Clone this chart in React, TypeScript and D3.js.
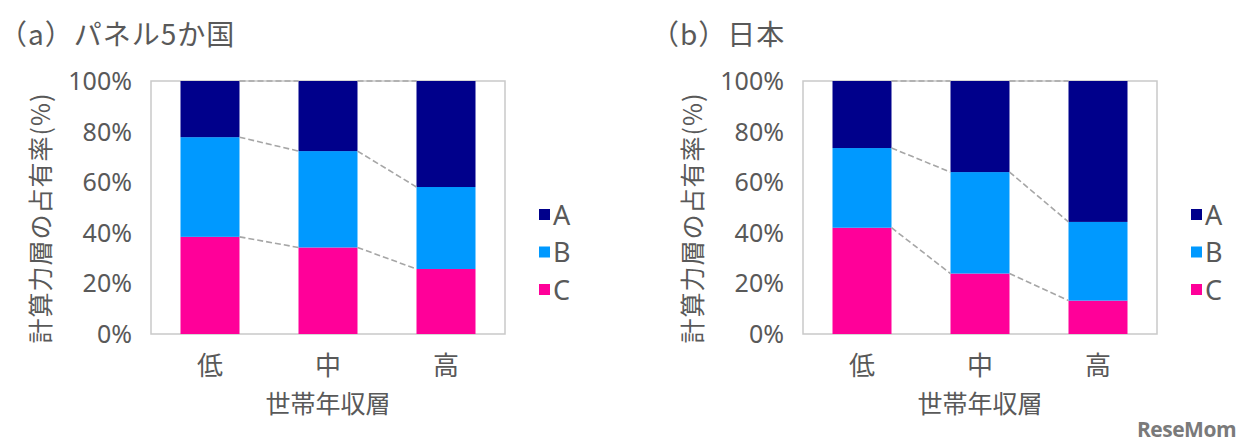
import React from "react";
import * as d3 from "d3";

const categories = ["低", "中", "高"];
const seriesKeys = ["C", "B", "A"];
const legendKeys = ["A", "B", "C"];
const panelA_C = [38.4, 34.2, 25.7];
const panelA_B = [39.4, 38.1, 32.4];
const panelA_A = [22.2, 27.7, 41.9];
const panelB_C = [42.0, 23.9, 13.2];
const panelB_B = [31.5, 40.1, 31.1];
const panelB_A = [26.5, 36.0, 55.7];
const yTicks = [0, 20, 40, 60, 80, 100];
const titles = ["（a）パネル5か国", "（b）日本"];
const yTitle = "計算力層の占有率(%)";
const xTitle = "世帯年収層";

const colors: Record<string, string> = { A: "#00008b", B: "#0099ff", C: "#ff0099" };
const FONT = "'Noto Sans CJK JP', 'Noto Sans', sans-serif";
const LATIN = "'Noto Sans', 'Noto Sans CJK JP', sans-serif";
const TXT = "#595959";

type PanelProps = { x0: number; title: string; C: number[]; B: number[]; A: number[] };

function Panel({ x0, title, C, B, A }: PanelProps) {
  const left = x0;
  const width = 354;
  const top = 81;
  const bottom = 334;
  const x = d3
    .scaleBand<string>()
    .domain(categories)
    .range([left, left + width])
    .paddingInner(0.5)
    .paddingOuter(0.25);
  const y = d3.scaleLinear().domain([0, 100]).range([bottom, top]);
  const rows = categories.map((c, i) => ({ cat: c, C: C[i], B: B[i], A: A[i] }));
  const stack = d3.stack<any>().keys(seriesKeys)(rows);
  const bw = x.bandwidth();

  const connectors: { x1: number; y1: number; x2: number; y2: number }[] = [];
  stack.forEach((layer) => {
    for (let i = 0; i < categories.length - 1; i++) {
      connectors.push({
        x1: (x(categories[i]) as number) + bw,
        y1: y(layer[i][1]),
        x2: x(categories[i + 1]) as number,
        y2: y(layer[i + 1][1]),
      });
    }
  });

  const legendX = left + width + 34;
  const legendY0 = 215;
  return (
    <g>
      <text x={x0 - 152} y={45} fontSize={28} letterSpacing={1} fill={TXT} fontFamily={FONT}>
        {title}
      </text>
      <rect x={left} y={top} width={width} height={bottom - top} fill="none" stroke="#c9c9c9" strokeWidth={1.5} />
      {stack.map((layer) =>
        layer.map((d, i) => (
          <rect
            key={layer.key + i}
            x={x(categories[i])}
            y={y(d[1])}
            width={bw}
            height={y(d[0]) - y(d[1])}
            fill={colors[layer.key]}
          />
        ))
      )}
      {connectors.map((l, i) => (
        <line key={i} x1={l.x1} y1={l.y1} x2={l.x2} y2={l.y2} stroke="#a6a6a6" strokeWidth={1.6} strokeDasharray="6,3" />
      ))}
      {yTicks.map((t) => (
        <text key={t} x={left - 19} y={y(t)} dy="0.36em" textAnchor="end" fontSize={25} fill={TXT} fontFamily={LATIN}>
          {t}%
        </text>
      ))}
      {categories.map((c) => (
        <text
          key={c}
          x={(x(c) as number) + bw / 2}
          y={366}
          dy="0.36em"
          textAnchor="middle"
          fontSize={26}
          fill={TXT}
          fontFamily={FONT}
        >
          {c}
        </text>
      ))}
      <text x={left + width / 2} y={404} dy="0.36em" textAnchor="middle" fontSize={25} fill={TXT} fontFamily={FONT}>
        {xTitle}
      </text>
      <text
        transform={`translate(${left - 110},218) rotate(-90)`}
        textAnchor="middle"
        dy="0.36em"
        fontSize={25}
        letterSpacing={1}
        fill={TXT}
        fontFamily={FONT}
      >
        {yTitle}
      </text>
      {legendKeys.map((k, i) => (
        <g key={k}>
          <rect x={legendX} y={legendY0 + i * 37.5 - 6} width={11} height={11} fill={colors[k]} />
          <text x={legendX + 14} y={legendY0 + i * 37.5} dy="0.36em" fontSize={27} fill={TXT} fontFamily={LATIN}>
            {k}
          </text>
        </g>
      ))}
    </g>
  );
}

export default function App() {
  return (
    <svg
      width={1248}
      height={447}
      style={{ position: "absolute", left: 0, top: 0, background: "#fff" }}
    >
      <rect width={1248} height={447} fill="#fff" />
      <Panel x0={151} title={titles[0]} C={panelA_C} B={panelA_B} A={panelA_A} />
      <Panel x0={803} title={titles[1]} C={panelB_C} B={panelB_B} A={panelB_A} />
      <text x={1137} y={437} fontSize={21} fontWeight="bold" fill="#7a7a7a" fontFamily="'Open Sans', sans-serif" letterSpacing={-0.5}>
        ReseMom
      </text>
    </svg>
  );
}
